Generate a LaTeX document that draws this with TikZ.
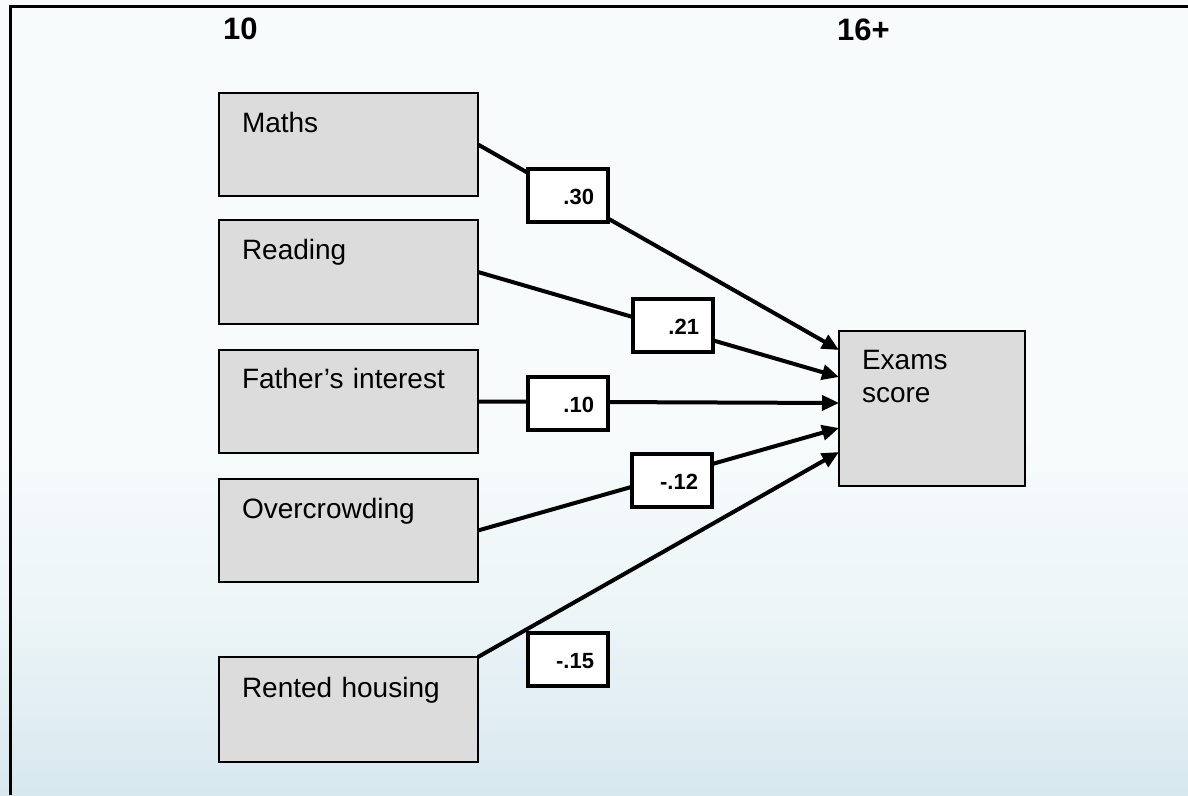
\documentclass[tikz,border=0pt]{standalone}
\usepackage{fontspec}
\setmainfont{Liberation Sans}
\usetikzlibrary{arrows.meta,calc}

\definecolor{bgtop}{HTML}{F7FBFC}
\definecolor{bgmid}{HTML}{EDF5F7}
\definecolor{bgbot}{HTML}{D7E8EF}
\definecolor{boxgray}{HTML}{DCDCDC}

\tikzset{
  varbox/.style={draw=black, line width=2pt, fill=boxgray, anchor=north west,
    inner xsep=23pt, inner ysep=0pt, outer sep=0pt, align=left,
    font=\fontsize{28}{33}\selectfont},
  coefbox/.style={draw=black, line width=3.5pt, fill=white, anchor=north west,
    inner xsep=14pt, inner ysep=0pt, outer sep=0pt, align=right,
    text width=52pt, text height=35pt, text depth=18pt,
    font=\fontsize{22}{26}\selectfont\bfseries},
  agehead/.style={anchor=base west, inner sep=0pt,
    font=\fontsize{31}{36}\selectfont\bfseries},
  path/.style={line width=4pt, -{Triangle[length=17pt,width=15pt]}},
  frameline/.style={line width=3pt}
}

\begin{document}
\begin{tikzpicture}[x=1pt,y=-1pt]
  \useasboundingbox (0,0) rectangle (1188,795);

  % background wash, pale at the top and bluer towards the foot
  \fill[bgtop] (0,0) rectangle (1188,431);
  \shade[top color=bgtop, bottom color=bgmid] (0,430) rectangle (1188,611);
  \shade[top color=bgmid, bottom color=bgbot] (0,610) rectangle (1188,795);

  % outer frame (top and left)
  \draw[frameline] (1188,6) -- (10,6) -- (10,795);

  % age headings
  \node[agehead] (age10) at (223,39) {10};
  \node[agehead] (age16) at (837,40) {16+};

  % predictors at age 10
  \node[varbox, text width=213pt, text height=39pt, text depth=64pt] (maths) at (219,93) {Maths};
  \node[varbox, text width=213pt, text height=39pt, text depth=65pt] (reading) at (219,220) {Reading};
  \node[varbox, text width=213pt, text height=38pt, text depth=65pt] (father) at (219,350) {Father’s interest};
  \node[varbox, text width=213pt, text height=39pt, text depth=64pt] (crowd) at (219,479) {Overcrowding};
  \node[varbox, text width=213pt, text height=40pt, text depth=65pt] (rented) at (219,657) {Rented housing};

  % outcome at 16+
  \node[varbox, text width=140pt, text height=38pt, text depth=117pt] (exams) at (839,331) {Exams\\score};

  % arrival points on the outcome box
  \coordinate (inA) at ($(exams.north west)+(0,19)$);
  \coordinate (inB) at ($(exams.north west)+(0,46)$);
  \coordinate (inC) at ($(exams.north west)+(0,72)$);
  \coordinate (inD) at ($(exams.north west)+(0,97)$);
  \coordinate (inE) at ($(exams.north west)+(0,121)$);

  % paths
  \draw[path] (maths.east) -- (inA);
  \draw[path] (reading.east) -- (inB);
  \draw[path] (father.east) -- (inC);
  \draw[path] (crowd.east) -- (inD);
  \draw[path] (rented.north east) -- (inE);

  % path coefficients
  \node[coefbox] (c30) at (528,169) {.30};
  \node[coefbox] (c21) at (633,299) {.21};
  \node[coefbox] (c10) at (528,377) {.10};
  \node[coefbox] (c12) at (632,454) {-.12};
  \node[coefbox] (c15) at (528,633) {-.15};
\end{tikzpicture}
\end{document}
